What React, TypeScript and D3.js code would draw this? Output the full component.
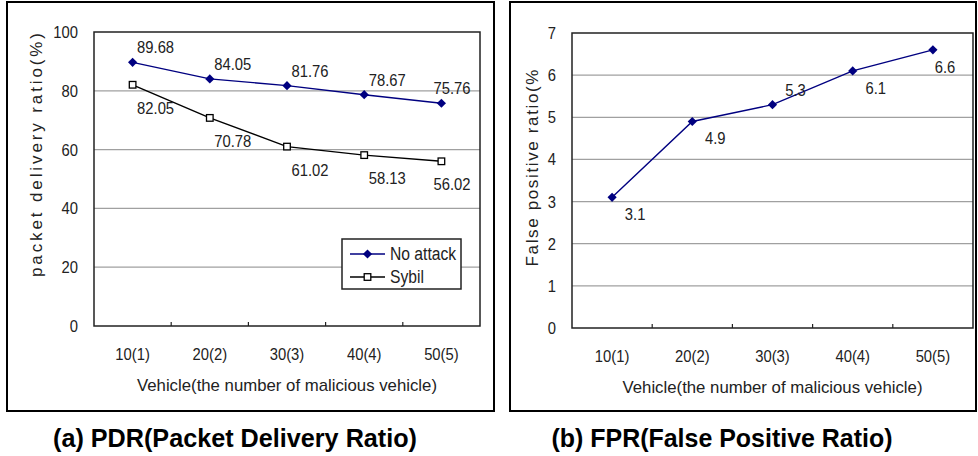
import React from "react";
import * as d3 from "d3";

// categories and values
const categories = ["10(1)", "20(2)", "30(3)", "40(4)", "50(5)"];
const pdrNoAttack = [89.68, 84.05, 81.76, 78.67, 75.76];
const pdrSybil = [82.05, 70.78, 61.02, 58.13, 56.02];
const fprValues = [3.1, 4.9, 5.3, 6.1, 6.6];
const pdrTicks = [0, 20, 40, 60, 80, 100];
const fprTicks = [0, 1, 2, 3, 4, 5, 6, 7];
const fprLabelSide = ["below", "below", "above", "below", "below"];

const FONT = "'Liberation Sans', Arial, sans-serif";
const NAVY = "#000080";

const diamond = (x: number, y: number, r = 4.6) =>
  `M${x},${y - r}L${x + r},${y}L${x},${y + r}L${x - r},${y}Z`;

// the original uses a condensed face; squeeze Liberation Sans horizontally
const NText = ({ x, y, anchor = "start", size = 17, children }: any) => (
  <text
    transform={`translate(${x},${y}) scale(0.87,1)`}
    dy="0.35em"
    textAnchor={anchor}
    fontSize={size}
    fill="#222"
  >
    {children}
  </text>
);

type Series = {
  name: string;
  values: number[];
  color: string;
  marker: "diamond" | "square";
  labelPos: (i: number) => "above" | "below";
  belowDy: number;
};

type PanelProps = {
  frame: [number, number, number, number];
  plot: { left: number; right: number; top: number; bottom: number };
  yMax: number;
  yTicks: number[];
  yTitle: string;
  yTitleX: number;
  yTitleY: number;
  yTitleLen: number;
  series: Series[];
  caption: string;
  captionX: number;
  captionLen: number;
  legend?: boolean;
};

const Panel = ({ frame, plot, yMax, yTicks, yTitle, yTitleX, yTitleY, yTitleLen, series, caption, captionX, captionLen, legend }: PanelProps) => {
  const x = d3.scaleBand().domain(categories).range([plot.left, plot.right]);
  const y = d3.scaleLinear().domain([0, yMax]).range([plot.bottom, plot.top]);
  const line = d3
    .line<number>()
    .x((_, i) => x(categories[i])! + x.bandwidth() / 2)
    .y((d) => y(d));
  const [fx, fy, fw, fh] = frame;

  return (
    <g>
      <rect x={fx} y={fy} width={fw} height={fh} fill="white" stroke="black" strokeWidth={2} />
      {/* grid */}
      {yTicks.slice(1, -1).map((t) => (
        <line key={t} x1={plot.left} x2={plot.right} y1={y(t)} y2={y(t)} stroke="#a0a0a0" strokeWidth={1.2} />
      ))}
      <rect
        x={plot.left}
        y={plot.top}
        width={plot.right - plot.left}
        height={plot.bottom - plot.top}
        fill="none"
        stroke="#222"
        strokeWidth={1.5}
      />
      {/* x ticks at category boundaries, pointing up */}
      {categories.slice(1).map((c) => (
        <line key={c} x1={x(c)} x2={x(c)} y1={plot.bottom} y2={plot.bottom - 4} stroke="#222" strokeWidth={1.2} />
      ))}
      {yTicks.map((t) => (
        <NText key={t} x={plot.left - 16} y={y(t)} anchor="end">
          {t}
        </NText>
      ))}
      {categories.map((c) => (
        <NText key={c} x={x(c)! + x.bandwidth() / 2} y={plot.bottom + 28} anchor="middle">
          {c}
        </NText>
      ))}
      <text
        x={(plot.left + plot.right) / 2}
        y={plot.bottom + 65}
        textAnchor="middle"
        fontSize={17}
        fill="#222"
        textLength={300}
        lengthAdjust="spacingAndGlyphs"
      >
        Vehicle(the number of malicious vehicle)
      </text>
      <text
        transform={`translate(${yTitleX},${yTitleY}) rotate(-90)`}
        textAnchor="middle"
        dy="0.35em"
        fontSize={17}
        fill="#222"
        textLength={yTitleLen}
        lengthAdjust="spacing"
      >
        {yTitle}
      </text>
      {series.map((s) => (
        <g key={s.name}>
          <path d={line(s.values)!} fill="none" stroke={s.color} strokeWidth={1.4} />
          {s.values.map((v, i) => {
            const cx = x(categories[i])! + x.bandwidth() / 2;
            const cy = y(v);
            return s.marker === "diamond" ? (
              <path key={i} d={diamond(cx, cy)} fill={s.color} />
            ) : (
              <rect key={i} x={cx - 3.3} y={cy - 3.3} width={6.6} height={6.6} fill="white" stroke={s.color} strokeWidth={1.3} />
            );
          })}
          {s.values.map((v, i) => {
            const cx = x(categories[i])! + x.bandwidth() / 2;
            const cy = y(v);
            const pos = s.labelPos(i);
            const lx = Math.min(cx + 23, plot.right - 28);
            const ly = pos === "above" ? cy - 15 : cy + s.belowDy;
            return (
              <NText key={"l" + i} x={lx} y={ly} anchor="middle">
                {v}
              </NText>
            );
          })}
        </g>
      ))}
      {legend && (
        <g>
          <rect x={342} y={239} width={119} height={50} fill="white" stroke="#222" strokeWidth={1.5} />
          {series.map((s, i) => {
            const ly = 254 + i * 23;
            return (
              <g key={s.name}>
                <line x1={350} x2={385} y1={ly} y2={ly} stroke={s.color} strokeWidth={1.4} />
                {s.marker === "diamond" ? (
                  <path d={diamond(367.5, ly)} fill={s.color} />
                ) : (
                  <rect x={364.2} y={ly - 3.3} width={6.6} height={6.6} fill="white" stroke={s.color} strokeWidth={1.3} />
                )}
                <NText x={390} y={ly} size={18}>
                  {s.name}
                </NText>
              </g>
            );
          })}
        </g>
      )}
      <text
        x={captionX}
        y={447}
        textAnchor="middle"
        fontSize={26}
        fontWeight="bold"
        fill="black"
        textLength={captionLen}
        lengthAdjust="spacingAndGlyphs"
      >
        {caption}
      </text>
    </g>
  );
};

export default function App() {
  return (
    <svg width={978} height={456} style={{ display: "block", position: "absolute", left: 0, top: 0 }} fontFamily={FONT}>
      <rect width={978} height={456} fill="white" />
      <Panel
        frame={[7, 2, 487, 409]}
        plot={{ left: 94, right: 480, top: 32, bottom: 326 }}
        yMax={100}
        yTicks={pdrTicks}
        yTitle="packet delivery ratio(%)"
        yTitleX={36}
        yTitleY={155}
        yTitleLen={244}
        series={[
          { name: "No attack", values: pdrNoAttack, color: NAVY, marker: "diamond", labelPos: () => "above", belowDy: 23 },
          { name: "Sybil", values: pdrSybil, color: "black", marker: "square", labelPos: () => "below", belowDy: 23 },
        ]}
        caption="(a) PDR(Packet Delivery Ratio)"
        captionX={235}
        captionLen={364}
        legend
      />
      <Panel
        frame={[510, 2, 466, 409]}
        plot={{ left: 572, right: 973, top: 33, bottom: 328 }}
        yMax={7}
        yTicks={fprTicks}
        yTitle="False positive ratio(%"
        yTitleX={532}
        yTitleY={168}
        yTitleLen={197}
        series={[
          {
            name: "FPR",
            values: fprValues,
            color: NAVY,
            marker: "diamond",
            labelPos: (i) => (fprLabelSide[i] === "above" ? "above" : "below"),
            belowDy: 17,
          },
        ]}
        caption="(b) FPR(False Positive Ratio)"
        captionX={722}
        captionLen={341}
      />
    </svg>
  );
}
